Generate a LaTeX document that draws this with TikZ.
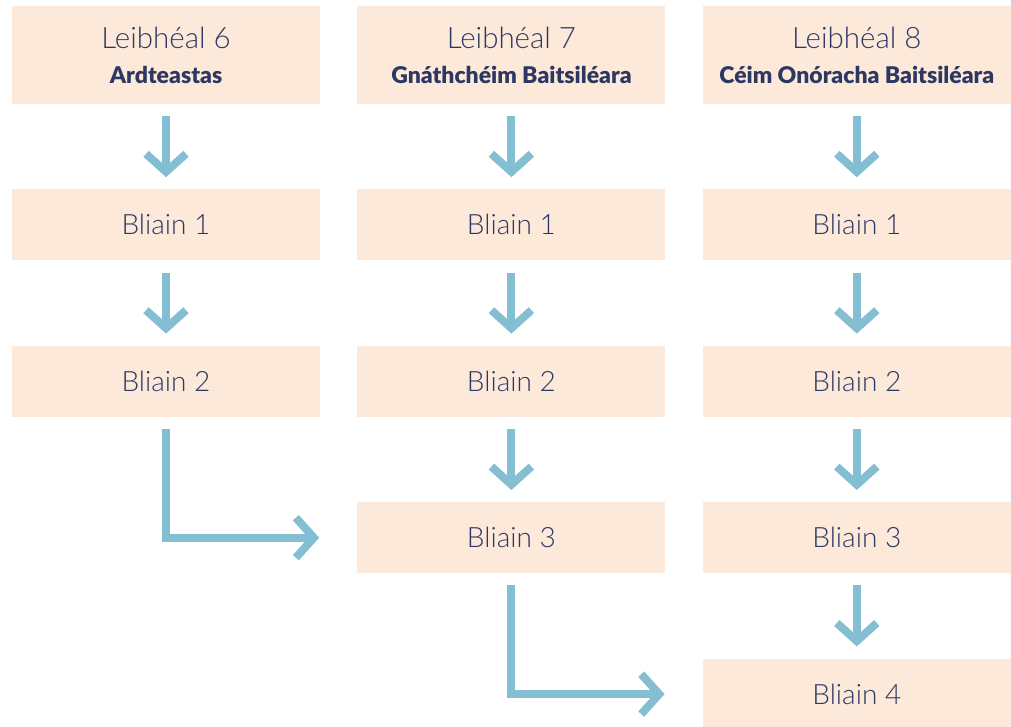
\documentclass[tikz,border=0pt]{standalone}
\usepackage{fontspec}
\setmainfont{Lato}
\newfontfamily\lightfont{Lato Light}
\newfontfamily\heavyfont{Lato Black}
\usetikzlibrary{positioning}
\usetikzlibrary{arrows.meta}
\definecolor{peach}{RGB}{253,233,218}
\definecolor{navy}{RGB}{44,56,98}
\definecolor{skyblue}{RGB}{132,190,210}
\tikzset{
    levelbox/.style = {fill=peach, minimum width=308pt, minimum height=98pt, inner sep=0pt, align=center, text=navy, font=\heavyfont\fontsize{23}{35}\selectfont},
    yearbox/.style = {fill=peach, minimum width=308pt, minimum height=71pt, inner sep=0pt, text=navy, font=\lightfont\fontsize{28}{32}\selectfont},
    flow/.style = {-{Straight Barb[length=18pt,width=40pt]}, line width=8pt, skyblue, shorten <=12pt, shorten >=12pt},
    flowturn/.style = {-{Straight Barb[length=18pt,width=40pt]}, line width=8pt, skyblue, shorten <=12pt, shorten >=38pt}
}
\newcommand{\levellabel}[2]{{\lightfont\fontsize{29.5}{32}\selectfont Leibhéal #1}\\#2}

\begin{document}
\begin{tikzpicture}[x=1pt, y=-1pt, node distance=85pt and 37pt]
  \useasboundingbox (0,0) rectangle (1011,727);
  % levels
  \node[levelbox] (l6) at (166,55) {\levellabel{6}{Ardteastas}};
  \node[levelbox, right=of l6] (l7) {\levellabel{7}{Gnáthchéim Baitsiléara}};
  \node[levelbox, right=of l7] (l8) {\levellabel{8}{Céim Onóracha Baitsiléara}};
  % years
  \node[yearbox, below=of l6] (a1) {Bliain 1};
  \node[yearbox, below=of a1] (a2) {Bliain 2};
  \node[yearbox, below=of l7] (b1) {Bliain 1};
  \node[yearbox, below=of b1] (b2) {Bliain 2};
  \node[yearbox, below=of b2] (b3) {Bliain 3};
  \node[yearbox, below=of l8] (c1) {Bliain 1};
  \node[yearbox, below=of c1] (c2) {Bliain 2};
  \node[yearbox, below=of c2] (c3) {Bliain 3};
  \node[yearbox, below=of c3] (c4) {Bliain 4};
  % arrows
  \draw[flow] (l6) -- (a1);
  \draw[flow] (a1) -- (a2);
  \draw[flowturn] (a2.south) |- (b3.west);
  \draw[flow] (l7) -- (b1);
  \draw[flow] (b1) -- (b2);
  \draw[flow] (b2) -- (b3);
  \draw[flowturn] (b3.south) |- (c4.west);
  \draw[flow] (l8) -- (c1);
  \draw[flow] (c1) -- (c2);
  \draw[flow] (c2) -- (c3);
  \draw[flow] (c3) -- (c4);
\end{tikzpicture}
\end{document}
